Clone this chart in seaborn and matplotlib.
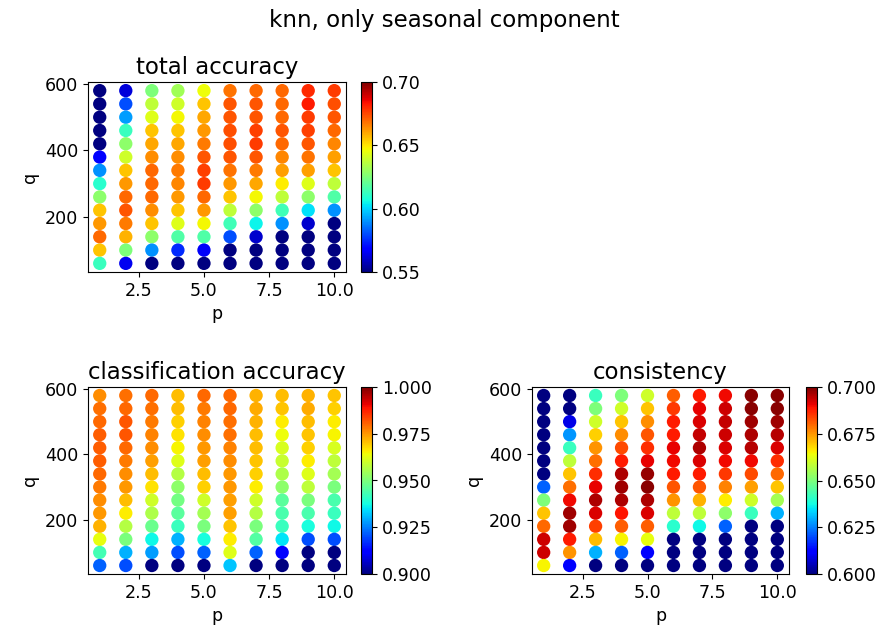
import numpy as np
import pandas as pd
import matplotlib
matplotlib.use("Agg")
import matplotlib.pyplot as plt
from matplotlib.colors import Normalize
from matplotlib.cm import ScalarMappable
import seaborn as sns

# p on x axis, q on y axis (q listed from top row to bottom row)
p_vals = list(range(1, 11))
q_vals = [580, 540, 500, 460, 420, 380, 340, 300, 260, 220, 180, 140, 100, 60]

# one list per p column, values ordered as q_vals
total_acc = [
    [0.545, 0.545, 0.545, 0.545, 0.548, 0.568, 0.590, 0.610, 0.628, 0.655, 0.662, 0.670, 0.655, 0.613],
    [0.562, 0.580, 0.592, 0.613, 0.628, 0.640, 0.655, 0.662, 0.670, 0.673, 0.667, 0.658, 0.625, 0.565],
    [0.625, 0.637, 0.643, 0.655, 0.660, 0.664, 0.670, 0.670, 0.670, 0.664, 0.655, 0.628, 0.590, 0.545],
    [0.632, 0.640, 0.647, 0.655, 0.660, 0.664, 0.667, 0.665, 0.662, 0.655, 0.643, 0.617, 0.575, 0.545],
    [0.646, 0.655, 0.660, 0.662, 0.667, 0.673, 0.676, 0.677, 0.670, 0.662, 0.647, 0.617, 0.566, 0.545],
    [0.668, 0.673, 0.673, 0.674, 0.674, 0.673, 0.668, 0.662, 0.655, 0.637, 0.614, 0.580, 0.545, 0.545],
    [0.670, 0.673, 0.673, 0.676, 0.677, 0.673, 0.667, 0.660, 0.647, 0.628, 0.605, 0.560, 0.545, 0.545],
    [0.670, 0.670, 0.670, 0.673, 0.670, 0.665, 0.661, 0.649, 0.637, 0.614, 0.590, 0.545, 0.545, 0.545],
    [0.680, 0.682, 0.677, 0.676, 0.673, 0.668, 0.661, 0.643, 0.628, 0.602, 0.560, 0.545, 0.545, 0.545],
    [0.677, 0.674, 0.673, 0.670, 0.665, 0.661, 0.655, 0.637, 0.617, 0.590, 0.545, 0.545, 0.545, 0.545],
]

class_acc = [
    [0.976, 0.979, 0.980, 0.981, 0.981, 0.981, 0.980, 0.978, 0.976, 0.975, 0.972, 0.963, 0.943, 0.922],
    [0.979, 0.980, 0.982, 0.982, 0.980, 0.978, 0.976, 0.975, 0.971, 0.966, 0.957, 0.950, 0.930, 0.920],
    [0.980, 0.979, 0.978, 0.977, 0.976, 0.974, 0.971, 0.967, 0.960, 0.956, 0.948, 0.937, 0.928, 0.895],
    [0.971, 0.971, 0.969, 0.967, 0.965, 0.962, 0.957, 0.952, 0.949, 0.946, 0.942, 0.930, 0.920, 0.895],
    [0.980, 0.978, 0.977, 0.976, 0.975, 0.974, 0.971, 0.969, 0.960, 0.955, 0.950, 0.938, 0.922, 0.895],
    [0.980, 0.980, 0.979, 0.979, 0.977, 0.976, 0.975, 0.975, 0.974, 0.974, 0.970, 0.966, 0.962, 0.932],
    [0.972, 0.973, 0.972, 0.971, 0.971, 0.970, 0.969, 0.966, 0.960, 0.957, 0.950, 0.945, 0.922, 0.895],
    [0.971, 0.970, 0.966, 0.964, 0.961, 0.959, 0.956, 0.952, 0.946, 0.944, 0.942, 0.935, 0.912, 0.895],
    [0.972, 0.973, 0.971, 0.970, 0.969, 0.966, 0.962, 0.958, 0.950, 0.944, 0.938, 0.920, 0.895, 0.895],
    [0.970, 0.969, 0.966, 0.965, 0.961, 0.958, 0.955, 0.950, 0.944, 0.942, 0.937, 0.920, 0.895, 0.895],
]

consistency = [
    [0.597, 0.597, 0.597, 0.597, 0.597, 0.597, 0.600, 0.622, 0.650, 0.670, 0.680, 0.693, 0.693, 0.665],
    [0.597, 0.597, 0.609, 0.627, 0.642, 0.658, 0.670, 0.679, 0.690, 0.697, 0.697, 0.688, 0.675, 0.612],
    [0.642, 0.650, 0.660, 0.669, 0.675, 0.679, 0.686, 0.691, 0.696, 0.692, 0.684, 0.671, 0.630, 0.597],
    [0.650, 0.660, 0.670, 0.676, 0.683, 0.688, 0.696, 0.697, 0.696, 0.689, 0.681, 0.665, 0.622, 0.597],
    [0.660, 0.670, 0.676, 0.682, 0.686, 0.691, 0.698, 0.699, 0.696, 0.692, 0.681, 0.663, 0.611, 0.597],
    [0.681, 0.685, 0.688, 0.688, 0.691, 0.690, 0.688, 0.682, 0.675, 0.658, 0.640, 0.597, 0.597, 0.597],
    [0.688, 0.691, 0.692, 0.694, 0.696, 0.692, 0.688, 0.682, 0.672, 0.658, 0.637, 0.597, 0.597, 0.597],
    [0.690, 0.693, 0.694, 0.693, 0.692, 0.690, 0.685, 0.677, 0.666, 0.652, 0.622, 0.597, 0.597, 0.597],
    [0.699, 0.699, 0.697, 0.696, 0.695, 0.690, 0.683, 0.674, 0.660, 0.642, 0.597, 0.597, 0.597, 0.597],
    [0.699, 0.699, 0.697, 0.695, 0.692, 0.686, 0.680, 0.670, 0.655, 0.630, 0.597, 0.597, 0.597, 0.597],
]

# colourbar ticks for each panel
total_ticks = [0.55, 0.60, 0.65, 0.70]
class_ticks = [0.900, 0.925, 0.950, 0.975, 1.000]
consist_ticks = [0.600, 0.625, 0.650, 0.675, 0.700]

rows = []
for i, p in enumerate(p_vals):
    for j, q in enumerate(q_vals):
        rows.append({"p": p, "q": q, "total": total_acc[i][j],
                     "classif": class_acc[i][j], "consist": consistency[i][j]})
df = pd.DataFrame(rows)

W, H = 889, 642
fig = plt.figure(figsize=(W / 100, H / 100), dpi=100)
FS_TICK = 12.6
FS_TITLE = 16.5
jet = matplotlib.colormaps["jet"]


def box(x0, y0, x1, y1):
    return [x0 / W, 1 - y1 / H, (x1 - x0) / W, (y1 - y0) / H]


panels = [
    ("total", "total accuracy", (0.55, 0.70), total_ticks, "%.2f",
     box(88, 82, 346, 272), box(361, 82, 372, 272)),
    ("classif", "classification accuracy", (0.90, 1.00), class_ticks, "%.3f",
     box(88, 387, 346, 574), box(361, 387, 372, 574)),
    ("consist", "consistency", (0.60, 0.70), consist_ticks, "%.3f",
     box(532, 387, 789, 574), box(806, 387, 817, 574)),
]

for col, title, (vmin, vmax), ticks, fmt, apos, cpos in panels:
    ax = fig.add_axes(apos)
    cax = fig.add_axes(cpos)
    sns.scatterplot(data=df, x="p", y="q", hue=col, palette=jet, hue_norm=(vmin, vmax),
                    s=92, linewidth=0, legend=False, ax=ax)
    ax.set_title(title, fontsize=FS_TITLE)
    ax.set_xlabel("p", fontsize=FS_TICK)
    ax.set_ylabel("q", fontsize=FS_TICK)
    ax.tick_params(labelsize=FS_TICK)
    sm = ScalarMappable(norm=Normalize(vmin, vmax), cmap=jet)
    cb = fig.colorbar(sm, cax=cax, ticks=ticks, format=fmt)
    cb.ax.tick_params(labelsize=FS_TICK)

fig.suptitle("knn, only seasonal component", fontsize=FS_TITLE, y=1 - 20 / H, va="center")

fig.savefig("out.png", dpi=100)
